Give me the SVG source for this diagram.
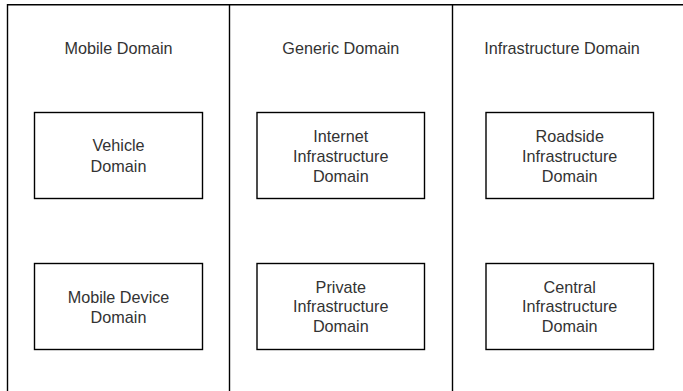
<svg xmlns="http://www.w3.org/2000/svg" width="683" height="391" viewBox="0 0 683 391">
<style>
.frame{fill:none;stroke:#000;stroke-width:1.4}
.box{fill:#fff;stroke:#000;stroke-width:1.4}
text{font-family:"Liberation Sans",Arial,Helvetica,sans-serif;font-size:16.2px;fill:#333;text-anchor:middle}
</style>
<rect x="0" y="0" width="683" height="391" fill="#fff"/>
<g id="columns">
<path class="frame" d="M7.5,392 V4.7 H690"/>
<path class="frame" d="M229.5,4.7 V392"/>
<path class="frame" d="M452.5,4.7 V392"/>
</g>
<g id="mobile-domain"><text x="118.5" y="54">Mobile Domain</text></g>
<g id="generic-domain"><text x="340.8" y="54">Generic Domain</text></g>
<g id="infrastructure-domain"><text x="562" y="54">Infrastructure Domain</text></g>
<g id="vehicle-domain">
<rect class="box" x="34.5" y="112.5" width="168" height="86"/>
<text x="118.5" y="151">Vehicle</text>
<text x="118.5" y="171.5">Domain</text>
</g>
<g id="mobile-device-domain">
<rect class="box" x="34.5" y="263.5" width="168" height="86"/>
<text x="118.5" y="302.5">Mobile Device</text>
<text x="118.5" y="322.5">Domain</text>
</g>
<g id="internet-infrastructure-domain">
<rect class="box" x="257" y="112.5" width="167.5" height="86"/>
<text x="340.8" y="141.5">Internet</text>
<text x="340.8" y="161.5">Infrastructure</text>
<text x="340.8" y="181.5">Domain</text>
</g>
<g id="private-infrastructure-domain">
<rect class="box" x="257" y="263.5" width="167.5" height="86"/>
<text x="340.8" y="292.5">Private</text>
<text x="340.8" y="312">Infrastructure</text>
<text x="340.8" y="332">Domain</text>
</g>
<g id="roadside-infrastructure-domain">
<rect class="box" x="486" y="112.5" width="167.5" height="86"/>
<text x="569.7" y="141.5">Roadside</text>
<text x="569.7" y="161.5">Infrastructure</text>
<text x="569.7" y="181.5">Domain</text>
</g>
<g id="central-infrastructure-domain">
<rect class="box" x="486" y="263.5" width="167.5" height="86"/>
<text x="569.7" y="292.5">Central</text>
<text x="569.7" y="312">Infrastructure</text>
<text x="569.7" y="332">Domain</text>
</g>
<g id="connectors"></g>
</svg>
